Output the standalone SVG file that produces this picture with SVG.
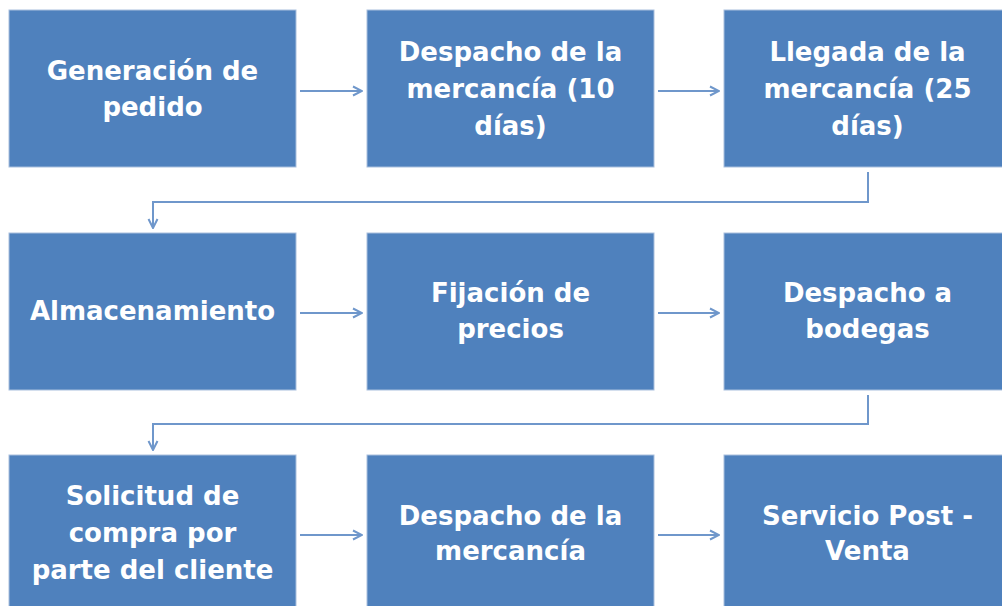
<svg xmlns="http://www.w3.org/2000/svg" width="1002" height="606" viewBox="0 0 1002 606">
<defs>
<style>
.box{fill:#4F81BD;stroke:#A9BFDD;stroke-width:1}
.t{fill:#FFFFFF;font-family:"DejaVu Sans",Verdana,sans-serif;font-weight:bold;font-size:26px;text-anchor:middle;dominant-baseline:central}
.c{fill:none;stroke:#6F97CB;stroke-width:2}
</style>
<marker id="ah" viewBox="0 0 12 12" refX="11" refY="6" markerWidth="12" markerHeight="12" markerUnits="userSpaceOnUse" orient="auto">
<path d="M2,1.5 L11,6 L2,10.5" fill="none" stroke="#6F97CB" stroke-width="2"/>
</marker>
</defs>
<rect width="1002" height="606" fill="#FFFFFF"/>
<g id="connectors">
<line class="c" x1="300" y1="91" x2="362" y2="91" marker-end="url(#ah)"/>
<line class="c" x1="658" y1="91" x2="719" y2="91" marker-end="url(#ah)"/>
<polyline class="c" points="868,172 868,202 153,202 153,228" marker-end="url(#ah)"/>
<line class="c" x1="300" y1="313" x2="362" y2="313" marker-end="url(#ah)"/>
<line class="c" x1="658" y1="313" x2="719" y2="313" marker-end="url(#ah)"/>
<polyline class="c" points="868,395 868,424 153,424 153,450" marker-end="url(#ah)"/>
<line class="c" x1="300" y1="535" x2="362" y2="535" marker-end="url(#ah)"/>
<line class="c" x1="658" y1="535" x2="719" y2="535" marker-end="url(#ah)"/>
</g>
<g id="n1"><rect class="box" x="9" y="10" width="287" height="157"/><text class="t" x="152.5" y="71">Generación de</text><text class="t" x="152.5" y="107">pedido</text></g>
<g id="n2"><rect class="box" x="367" y="10" width="287" height="157"/><text class="t" x="510.5" y="52">Despacho de la</text><text class="t" x="510.5" y="89">mercancía (10</text><text class="t" x="510.5" y="126">días)</text></g>
<g id="n3"><rect class="box" x="724" y="10" width="287" height="157"/><text class="t" x="867.5" y="52">Llegada de la</text><text class="t" x="867.5" y="89">mercancía (25</text><text class="t" x="867.5" y="126">días)</text></g>
<g id="n4"><rect class="box" x="9" y="233" width="287" height="157"/><text class="t" x="152.5" y="311">Almacenamiento</text></g>
<g id="n5"><rect class="box" x="367" y="233" width="287" height="157"/><text class="t" x="510.5" y="293">Fijación de</text><text class="t" x="510.5" y="329">precios</text></g>
<g id="n6"><rect class="box" x="724" y="233" width="287" height="157"/><text class="t" x="867.5" y="293">Despacho a</text><text class="t" x="867.5" y="329">bodegas</text></g>
<g id="n7"><rect class="box" x="9" y="455" width="287" height="157"/><text class="t" x="152.5" y="496">Solicitud de</text><text class="t" x="152.5" y="533">compra por</text><text class="t" x="152.5" y="570">parte del cliente</text></g>
<g id="n8"><rect class="box" x="367" y="455" width="287" height="157"/><text class="t" x="510.5" y="516">Despacho de la</text><text class="t" x="510.5" y="551">mercancía</text></g>
<g id="n9"><rect class="box" x="724" y="455" width="287" height="157"/><text class="t" x="867.5" y="516">Servicio Post -</text><text class="t" x="867.5" y="551">Venta</text></g>
</svg>
